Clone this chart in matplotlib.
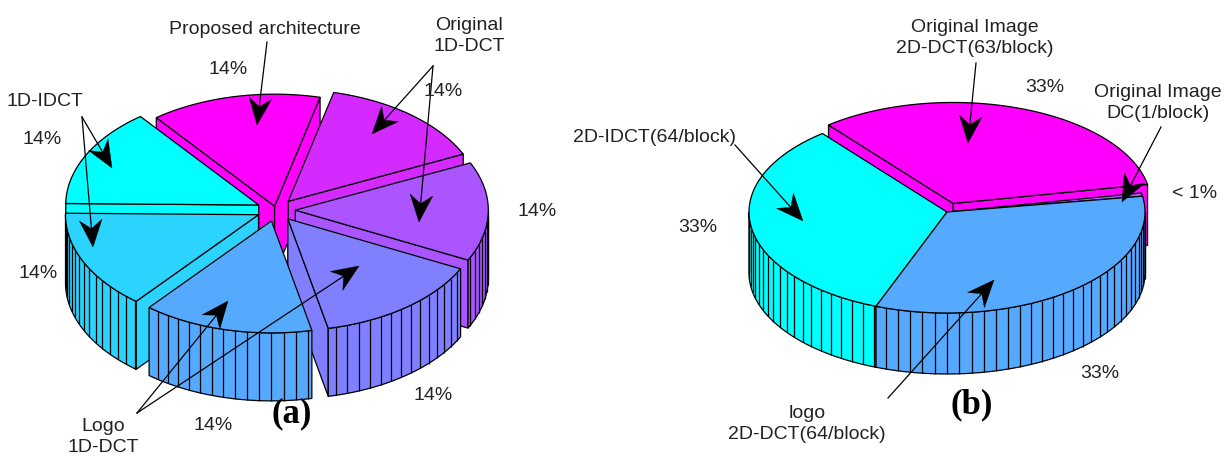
import numpy as np
import matplotlib
matplotlib.use('Agg')
import matplotlib.pyplot as plt
from matplotlib.patches import Polygon

# block counts per slice, clockwise from the start angle
shares_a = [1, 1, 1, 1, 1, 1, 1]
colors_a = ['#FF00FF', '#D42AFF', '#AA55FF', '#7F7FFF', '#55AAFF', '#2AD4FF', '#00FFFF']
explode_a = [0.035, 0.1, 0.1, 0.1, 0.1, 0.1, 0.1]

shares_b = [63, 1, 64, 64]
colors_b = ['#FF00FF', '#AA55FF', '#55AAFF', '#00FFFF']
explode_b = [0.09, 0, 0, 0]

labels_a = ['Proposed architecture', 'Original\n1D-DCT', '1D-IDCT', 'Logo\n1D-DCT']
pcts_a = ['14%', '14%', '14%', '14%', '14%', '14%', '14%']
labels_b = ['Original Image\n2D-DCT(63/block)', 'Original Image\nDC(1/block)',
            '2D-IDCT(64/block)', 'logo\n2D-DCT(64/block)']
pcts_b = ['33%', '< 1%', '33%', '33%']

FONT = 'Liberation Sans'
FS = 14


def pie3d(ax, shares, colors, cx, cy, rx, ry, depth, start, explode, rib=3.6):
    shares = np.array(shares, dtype=float)
    sweep = shares / shares.sum() * 360
    ends = start - np.cumsum(sweep)
    starts = ends + sweep

    slices = []
    for a1, a2, c, ex in zip(starts, ends, colors, explode):
        mid = np.radians((a1 + a2) / 2)
        slices.append((np.sin(mid), a1, a2, c, cx + ex * rx * np.cos(mid), cy - ex * ry * np.sin(mid)))

    # painter's order, back slices first
    slices.sort(key=lambda s: -s[0])
    for _, a1, a2, c, x0, y0 in slices:
        def pt(deg):
            t = np.radians(deg)
            return x0 + rx * np.cos(t), y0 - ry * np.sin(t)

        # only the cut faces turned towards the viewer
        faces = []
        if np.cos(np.radians(a1)) < 0:
            faces.append(a1)
        if np.cos(np.radians(a2)) > 0:
            faces.append(a2)
        for a in faces:
            xe, ye = pt(a)
            ax.add_patch(Polygon([(x0, y0), (xe, ye), (xe, ye + depth), (x0, y0 + depth)],
                                 fc=c, ec='k', lw=0.9, joinstyle='round', zorder=1))

        lo, hi = max(a2, -180), min(a1, 0)
        if hi > lo:
            th = np.linspace(hi, lo, 40)
            xs, ys = pt(th)
            wall = list(zip(xs, ys)) + list(zip(xs[::-1], ys[::-1] + depth))
            ax.add_patch(Polygon(wall, fc=c, ec='k', lw=0.9, zorder=1))
            k = np.arange(np.ceil(lo / rib), np.floor(hi / rib) + 1) * rib
            xr, yr = pt(k)
            ax.vlines(xr, yr, yr + depth, color='k', lw=0.9, zorder=1)

        th = np.linspace(a1, a2, 60)
        xs, ys = pt(th)
        ax.add_patch(Polygon([(x0, y0)] + list(zip(xs, ys)), fc=c, ec='k', lw=0.9, zorder=1))


def arrow(ax, start, tip, head=27):
    start, tip = np.array(start, float), np.array(tip, float)
    d = tip - start
    d = d / np.hypot(*d)
    n = np.array([-d[1], d[0]])
    neck = tip - d * head * 0.68
    ax.plot([start[0], neck[0]], [start[1], neck[1]], color='k', lw=0.9, zorder=5)
    barb = tip - d * head
    ax.add_patch(Polygon([tip, barb + n * head * 0.42, neck, barb - n * head * 0.42],
                         fc='k', ec='k', lw=0.3, zorder=5))


def put(ax, x, y, s):
    ax.text(x, y, s, ha='center', va='center', family=FONT, fontsize=FS, color='#222222',
            linespacing=1.25, zorder=6)


fig = plt.figure(figsize=(12.32, 4.59), dpi=100)
ax = fig.add_axes([0, 0, 1, 1])
ax.set_xlim(0, 1232)
ax.set_ylim(459, 0)
ax.axis('off')

pie3d(ax, shares_a, colors_a, 276, 210, 193, 112, 68, 127.8, explode_a)
pie3d(ax, shares_b, colors_b, 947, 212, 198, 101, 61, 129, explode_b)

for (x, y), s in zip([(265, 29), (469, 36), (45, 101), (103, 437)], labels_a):
    put(ax, x, y, s)
for (x, y), s in zip([(228, 70), (443, 92), (537, 212), (433, 396), (213, 425), (38, 273), (42, 139)], pcts_a):
    put(ax, x, y, s)
for (x, y), s in zip([(975, 38), (1158, 103), (654, 137), (807, 424)], labels_b):
    put(ax, x, y, s)
for (x, y), s in zip([(1045, 87), (1195, 193), (698, 228), (1100, 373)], pcts_b):
    put(ax, x, y, s)

ax.text(292, 414, '(a)', ha='center', va='center', family='Liberation Serif',
        fontsize=25, fontweight='bold', zorder=6)
ax.text(972, 405, '(b)', ha='center', va='center', family='Liberation Serif',
        fontsize=25, fontweight='bold', zorder=6)

arrow(ax, (267, 42), (257, 125))
arrow(ax, (82, 117), (112, 168))
arrow(ax, (82, 117), (93, 247))
arrow(ax, (433, 66), (372, 134))
arrow(ax, (433, 66), (419, 222))
arrow(ax, (137, 413), (228, 301))
arrow(ax, (137, 413), (359, 266))
arrow(ax, (976, 63), (968, 143))
arrow(ax, (1161, 127), (1122, 202))
arrow(ax, (735, 145), (803, 221))
arrow(ax, (888, 398), (994, 280))

fig.savefig('out.png', dpi=100, facecolor='white')
